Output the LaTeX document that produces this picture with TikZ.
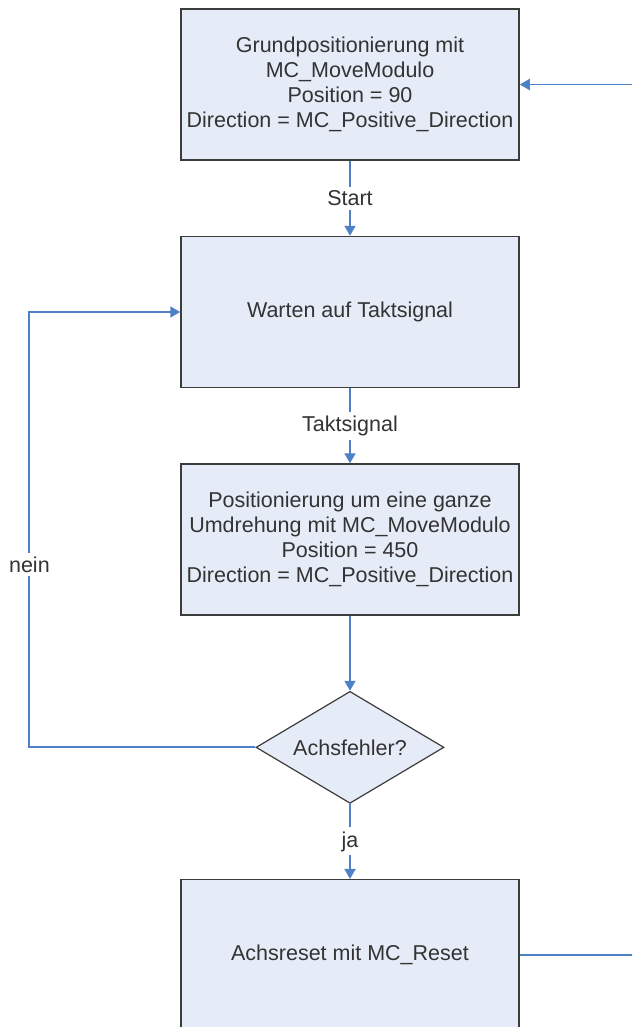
\documentclass[tikz,border=0pt]{standalone}
\usepackage{fontspec}
\setmainfont{Liberation Sans}
\usetikzlibrary{positioning, shapes.geometric, arrows.meta}
\definecolor{boxfill}{RGB}{230,236,247}
\definecolor{boxline}{RGB}{60,60,60}
\definecolor{flowblue}{RGB}{79,129,199}
\definecolor{txt}{RGB}{51,51,51}
\tikzset{stepbox/.style={draw=boxline, line width=1.5pt, fill=boxfill, minimum width=338pt, minimum height=151pt, align=center, text=txt}}
\tikzset{decision/.style={diamond, aspect=1.68, draw=boxline, line width=1.2pt, fill=boxfill, minimum width=188pt, minimum height=112pt, inner sep=0pt, text=txt}}
\tikzset{flow/.style={line width=1.9pt, flowblue, -{Triangle[length=10pt,width=11pt]}}}
\tikzset{flowlabel/.style={fill=white, text=txt, inner sep=4pt}}

\begin{document}
\begin{tikzpicture}[font=\fontsize{21.5}{25}\selectfont, node distance=75pt]
  % Page, the reset box runs off the bottom edge
  \useasboundingbox (0,0) rectangle (632pt,-1027pt);
  \clip (0,0) rectangle (632pt,-1027pt);
  % Steps
  \node[stepbox] (grund) at (350pt,-84.5pt)
    {Grundpositionierung mit\\MC\_MoveModulo\\Position = 90\\Direction = MC\_Positive\_Direction};
  \node[stepbox, below=of grund] (warten) {Warten auf Taktsignal};
  \node[stepbox, below=of warten] (umdr)
    {Positionierung um eine ganze\\Umdrehung mit MC\_MoveModulo\\Position = 450\\Direction = MC\_Positive\_Direction};
  \node[decision, below=of umdr] (fehler) {Achsfehler?};
  \node[stepbox, below=of fehler] (reset) {Achsreset mit MC\_Reset};
  % Transitions
  \draw[flow] (grund) -- node[flowlabel] {Start} (warten);
  \draw[flow] (warten) -- node[flowlabel] {Taktsignal} (umdr);
  \draw[flow] (umdr) -- (fehler);
  \draw[flow] (fehler) -- node[flowlabel] {ja} (reset);
  \draw[flow] (fehler.west) -- ++(-226pt,0) |- node[flowlabel, pos=0.21] {nein} (warten.west);
  % back to the start, leaves the page on the right
  \draw[flow] (reset.east) -- ++(150pt,0) |- (grund.east);
\end{tikzpicture}
\end{document}
